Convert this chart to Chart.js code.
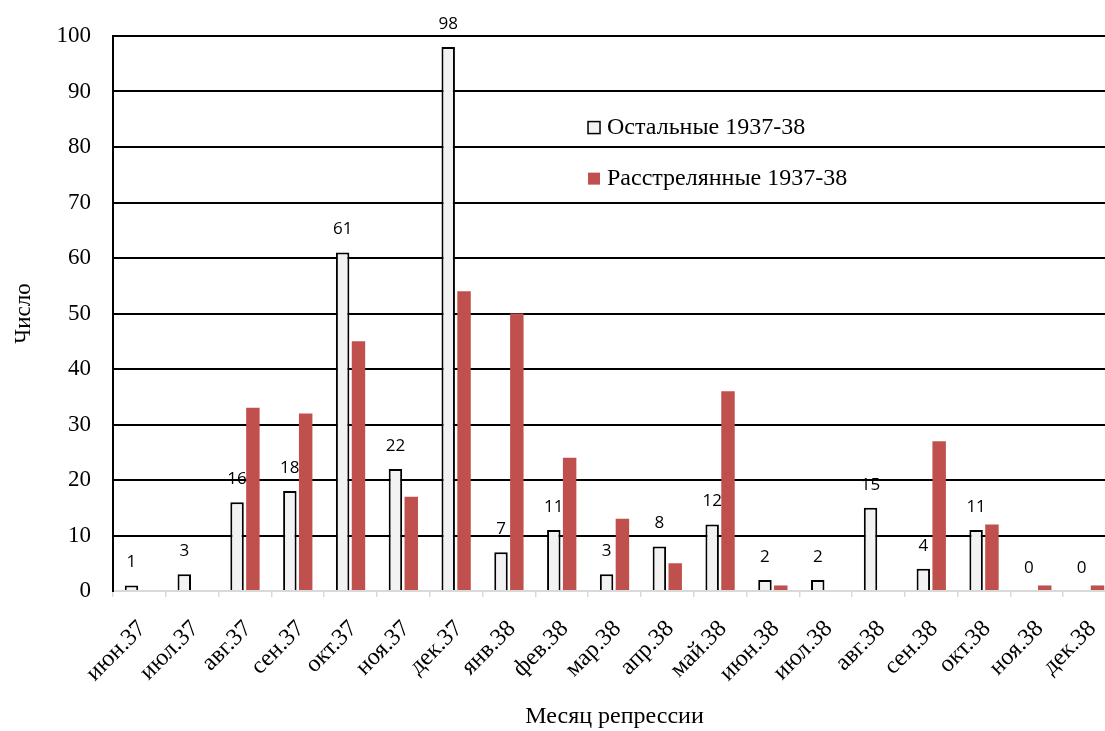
<!DOCTYPE html>
<html>
<head>
<meta charset="utf-8">
<script src="https://cdn.jsdelivr.net/npm/chart.js@4.4.1/dist/chart.umd.min.js"></script>
<style>
	html, body { margin: 0; padding: 0; background: #fff; overflow: hidden; }
	/* область графика в оригинале обрезана справа: холст чуть шире окна */
	#wrap { width: 1116px; height: 731px; position: relative; }
</style>
</head>
<body>
<div id="wrap"><canvas id="repChart"></canvas></div>
<script>
const months = ['июн.37', 'июл.37', 'авг.37', 'сен.37', 'окт.37', 'ноя.37', 'дек.37',
	'янв.38', 'фев.38', 'мар.38', 'апр.38', 'май.38', 'июн.38', 'июл.38', 'авг.38',
	'сен.38', 'окт.38', 'ноя.38', 'дек.38'];
const others = [1, 3, 16, 18, 61, 22, 98, 7, 11, 3, 8, 12, 2, 2, 15, 4, 11, 0, 0];
const shot = [0, 0, 33, 32, 45, 17, 54, 50, 24, 13, 5, 36, 1, 0, 0, 27, 12, 1, 1];
const yTicks = [0, 10, 20, 30, 40, 50, 60, 70, 80, 90, 100];

const serif = '"Liberation Serif", "Times New Roman", serif';

// подписи значений над белыми столбиками
const valueLabels = {
	id: 'valueLabels',
	afterDatasetsDraw(chart) {
		const c = chart.ctx;
		const meta = chart.getDatasetMeta(0);
		c.save();
		c.font = '17px "Open Sans", sans-serif';
		c.fillStyle = '#000';
		c.textAlign = 'center';
		c.textBaseline = 'middle';
		meta.data.forEach((bar, i) => {
			c.fillText(String(others[i]), bar.x, bar.y - 23);
		});
		c.restore();
	}
};

// легенда внутри области графика
const innerLegend = {
	id: 'innerLegend',
	afterDraw(chart) {
		const c = chart.ctx;
		const area = chart.chartArea;
		const x = area.left + (area.right - area.left) * 0.4736;
		const rows = [chart.scales.y.getPixelForValue(83.5), chart.scales.y.getPixelForValue(74.3)];
		c.save();
		c.font = '24px ' + serif;
		c.textBaseline = 'middle';
		chart.data.datasets.forEach((ds, i) => {
			const y = rows[i];
			c.fillStyle = ds.backgroundColor;
			c.fillRect(x, y - 6, 12, 12);
			if (ds.borderWidth) {
				c.strokeStyle = ds.borderColor;
				c.lineWidth = 1.5;
				c.strokeRect(x, y - 6, 12, 12);
			}
			c.fillStyle = '#000';
			c.fillText(ds.label, x + 19, y);
		});
		c.restore();
	}
};

const ctx = document.getElementById('repChart').getContext('2d');
const chart = new Chart(ctx, {
	type: 'bar',
	data: {
		labels: months,
		datasets: [{
			label: 'Остальные 1937-38',
			data: others,
			backgroundColor: '#f2f2f2',
			borderColor: '#000',
			borderWidth: 2,
			borderSkipped: 'bottom'
		}, {
			label: 'Расстрелянные 1937-38',
			data: shot,
			backgroundColor: '#c0504d',
			borderWidth: 0
		}]
	},
	options: {
		responsive: true,
		maintainAspectRatio: false,
		animation: false,
		categoryPercentage: 0.6,
		barPercentage: 0.85,
		layout: { padding: { top: 36, right: 0, left: 0, bottom: 0 } },
		plugins: {
			legend: { display: false },
			tooltip: { enabled: false }
		},
		scales: {
			x: {
				offset: true,
				afterFit(scale) {
					scale.height = 140;
					scale.paddingLeft = 0;
					scale.paddingRight = 0;
				},
				grid: {
					offset: true,
					drawOnChartArea: false,
					drawTicks: true,
					tickLength: 6,
					color: '#d9d9d9',
					lineWidth: 1.5
				},
				border: { color: '#d9d9d9', width: 1.5 },
				ticks: {
					autoSkip: false,
					minRotation: 45,
					maxRotation: 45,
					padding: 18,
					labelOffset: 3,
					color: '#000',
					font: { family: serif, size: 24 }
				},
				title: {
					display: true,
					text: 'Месяц репрессии',
					color: '#000',
					font: { family: serif, size: 24 },
					padding: { top: 0, bottom: 0 }
				}
			},
			y: {
				min: 0,
				max: 100,
				afterFit(scale) { scale.width = 113; },
				afterBuildTicks(scale) { scale.ticks = yTicks.map(v => ({ value: v })); },
				grid: {
					drawTicks: false,
					lineWidth: 2,
					color: (c) => c.tick && c.tick.value === 0 ? '#d9d9d9' : '#000'
				},
				border: { color: '#000', width: 2 },
				ticks: {
					padding: 22,
					color: '#000',
					font: { family: serif, size: 23 }
				},
				title: {
					display: true,
					text: 'Число',
					color: '#000',
					font: { family: serif, size: 23 },
					padding: { top: 10, bottom: 0 }
				}
			}
		}
	},
	plugins: [valueLabels, innerLegend]
});
</script>
</body>
</html>
